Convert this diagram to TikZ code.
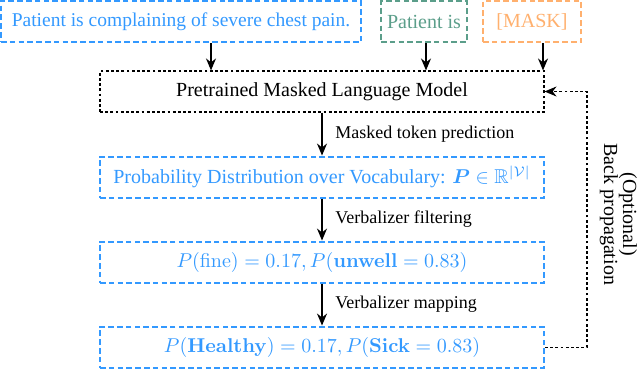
\documentclass[tikz,border=0pt]{standalone}
\usepackage{amsmath}
\usepackage{amssymb}
\usepackage[no-math]{fontspec}
\setmainfont{Liberation Serif}
\usepackage{tikz}
\usetikzlibrary{arrows.meta, positioning, calc}

\definecolor{ctxblue}{HTML}{3399FF}
\definecolor{stemgreen}{HTML}{5B9E8A}
\definecolor{maskorange}{HTML}{FFB06E}

\begin{document}
\begin{tikzpicture}[
  node distance = 21pt and 9pt,
  inbox/.style  = {draw=#1, text=#1, line width=1pt,
                   dash pattern=on 2.8pt off 1.6pt, minimum height=20.5pt,
                   inner xsep=2pt, font=\rmfamily\fontsize{10}{12}\selectfont},
  model/.style  = {draw, line width=0.55pt, dash pattern=on 1.4pt off 1.2pt,
                   minimum width=222pt, minimum height=20.5pt,
                   font=\rmfamily\fontsize{10}{12}\selectfont},
  dist/.style   = {inbox=ctxblue, minimum width=222pt},
  arr/.style    = {-{Stealth[length=6pt,width=5pt]}, line width=0.7pt},
  barr/.style   = {arr, line width=0.55pt, dash pattern=on 1.4pt off 1.2pt},
  elabel/.style = {font=\rmfamily\fontsize{9}{11}\selectfont, midway,
                   anchor=west, xshift=3pt}
]
\useasboundingbox (0,0) rectangle (320pt,-195.5pt);

% inputs
\node[inbox=ctxblue, minimum width=180pt,
      font=\rmfamily\fontsize{9.75}{12}\selectfont] (ctx) at (90.5pt,-10.75pt)
  {Patient is complaining of severe chest pain.};
\node[inbox=stemgreen, minimum width=43pt, right=of ctx] (stem) {Patient is};
\node[inbox=maskorange, minimum width=49pt, right=7pt of stem] (mask) {[MASK]};

% pipeline
\node[model] (plm) at (161pt,-45.75pt) {Pretrained Masked Language Model};
\node[dist, below=21.5pt of plm] (prob)
  {Probability Distribution over Vocabulary: $\boldsymbol{P}\in\mathbb{R}^{|\mathcal{V}|}$};
\node[dist, below=of prob] (words)
  {$P(\mathrm{fine}) = 0.17, P(\mathbf{unwell} = 0.83)$};
\node[dist, below=of words] (labels)
  {$P(\mathbf{Healthy}) = 0.17, P(\mathbf{Sick} = 0.83)$};

\draw[arr] ([xshift=15pt]ctx.south) -- ([xshift=15pt]ctx.south |- plm.north);
\draw[arr] ([xshift=1pt]stem.south) -- ([xshift=1pt]stem.south |- plm.north);
\draw[arr] ([xshift=5.5pt]mask.south) -- ([xshift=5.5pt]mask.south |- plm.north);

\draw[arr] (plm) -- node[elabel]{Masked token prediction} (prob);
\draw[arr] (prob) -- node[elabel]{Verbalizer filtering} (words);
\draw[arr] (words) -- node[elabel]{Verbalizer mapping} (labels);

% optional feedback
\draw[barr] (labels.east) -- ++(21pt,0) |- node[pos=0.26, rotate=-90,
  anchor=south, align=center, yshift=2.8pt,
  font=\rmfamily\fontsize{10}{9.5}\selectfont]
  {(Optional)\\Back propagation} (plm.east);

\end{tikzpicture}
\end{document}
